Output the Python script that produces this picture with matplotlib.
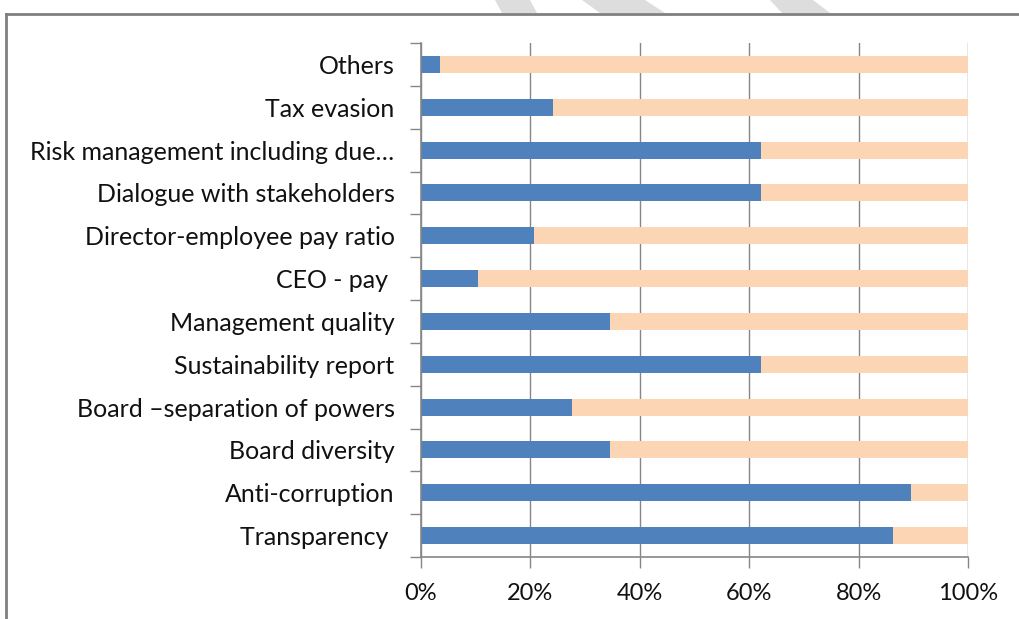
import numpy as np
import matplotlib.pyplot as plt
from matplotlib.patches import Polygon
from matplotlib.lines import Line2D
from matplotlib.ticker import FuncFormatter

# categories bottom -> top, counts out of 29 respondents
categories = ['Transparency ', 'Anti-corruption', 'Board diversity',
              'Board \u2013separation of powers', 'Sustainability report',
              'Management quality', 'CEO - pay ', 'Director-employee pay ratio',
              'Dialogue with stakeholders', 'Risk management including due\u2026',
              'Tax evasion', 'Others']
yes_counts = [25, 26, 10, 8, 18, 10, 3, 6, 18, 18, 7, 1]
no_counts = [4, 3, 19, 21, 11, 19, 26, 23, 11, 11, 22, 28]

blue = '#4F81BD'
peach = '#FCD5B5'
grey = '#868686'

plt.rcParams['font.family'] = ['Lato', 'DejaVu Sans']

yes = np.array(yes_counts, dtype=float)
no = np.array(no_counts, dtype=float)
total = yes + no
yes_share = yes / total
no_share = no / total

fig = plt.figure(figsize=(10.2, 6.19), dpi=100)
ax = fig.add_axes([421 / 1020, 1 - 557 / 619, 547 / 1020, 514 / 619])

y = np.arange(len(categories))
ax.barh(y, yes_share, height=0.4, color=blue, zorder=2)
ax.barh(y, no_share, left=yes_share, height=0.4, color=peach, zorder=2)

ax.set_xlim(0, 1)
ax.set_ylim(-0.5, len(categories) - 0.5)
ax.set_xticks(np.linspace(0, 1, 6))
ax.xaxis.set_major_formatter(FuncFormatter(lambda v, p: f'{v * 100:.0f}%'))
ax.grid(axis='x', color=grey, linewidth=1, zorder=0)
ax.set_axisbelow(True)

# category ticks sit between the bars, labels in the middle
ax.set_yticks(np.arange(len(categories) + 1) - 0.5)
ax.set_yticklabels([])
ax.set_yticks(y, minor=True)
ax.set_yticklabels(categories, minor=True)
ax.tick_params(axis='y', which='major', length=8, width=1, color=grey, direction='out')
ax.tick_params(axis='y', which='minor', length=0, pad=19, labelsize=18, labelcolor='#111111')
ax.tick_params(axis='x', length=8, width=1, color=grey, direction='out',
               pad=11, labelsize=17, labelcolor='#111111')

for s in ['top', 'right']:
    ax.spines[s].set_visible(False)
for s in ['left', 'bottom']:
    ax.spines[s].set_color(grey)
    ax.spines[s].set_linewidth(1.2)

# page frame and watermark stripes around the chart
W, H = 1020, 619
stripes = [[(495, 0), (530, 0), (537, 13), (502, 13)],
           [(582, 0), (645, 0), (665, 13), (600, 13)],
           [(770, 0), (813, 0), (830, 13), (782, 13)]]
for st in stripes:
    fig.patches.append(Polygon([(px / W, 1 - py / H) for px, py in st],
                               closed=True, transform=fig.transFigure,
                               facecolor='#DDDDDD', edgecolor='none'))
fig.lines.append(Line2D([6.5 / W, 1], [1 - 13.5 / H, 1 - 13.5 / H],
                        transform=fig.transFigure, color='#808080', linewidth=2))
fig.lines.append(Line2D([6.5 / W, 6.5 / W], [0, 1 - 13.5 / H],
                        transform=fig.transFigure, color='#808080', linewidth=2))

fig.savefig('out.png', dpi=100)
